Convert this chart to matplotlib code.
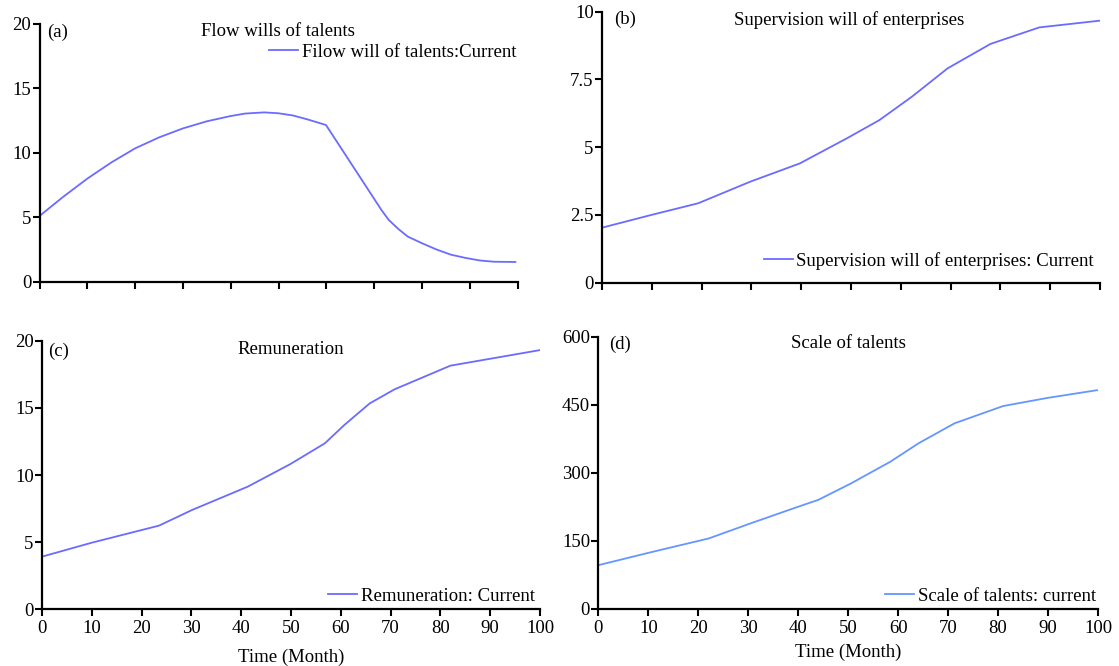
import matplotlib
matplotlib.use("Agg")
import matplotlib.pyplot as plt
import numpy as np

plt.rcParams['font.family'] = ['Liberation Serif', 'DejaVu Serif']

W, H = 1119, 666

# ---- data ----
t_a = [0, 5, 10, 15, 20, 25, 30, 35, 40, 43, 47, 50, 53, 56, 59.9, 71.5, 73, 75, 77, 80, 83, 86, 89, 92, 95, 99.5]
v_a = [5.1, 6.6, 8.0, 9.25, 10.35, 11.2, 11.9, 12.45, 12.86, 13.05, 13.14, 13.07, 12.9, 12.6, 12.16,
       5.56, 4.8, 4.1, 3.5, 2.98, 2.5, 2.1, 1.85, 1.65, 1.55, 1.53]

t_b = [0, 9.9, 19.3, 29.8, 39.7, 49.2, 55.7, 62.2, 69.4, 78, 87.8, 100]
v_b = [2.03, 2.50, 2.93, 3.73, 4.40, 5.33, 6.0, 6.86, 7.91, 8.81, 9.42, 9.67]

t_c = [0, 10, 23.5, 30.1, 41.3, 49.9, 56.8, 60.7, 65.8, 70.8, 82, 100]
v_c = [3.92, 4.96, 6.23, 7.39, 9.13, 10.82, 12.36, 13.72, 15.33, 16.38, 18.14, 19.3]

t_d = [0, 10.3, 22.1, 30.4, 40, 44, 50.5, 58.4, 64.1, 71.3, 81, 89.9, 99.8]
v_d = [96, 124, 155, 188, 225, 240, 276, 324, 365, 409, 447, 465, 482]

x_ticks = [0, 10, 20, 30, 40, 50, 60, 70, 80, 90, 100]
yticks_a = [0, 5, 10, 15, 20]
yticks_b = [0, 2.5, 5, 7.5, 10]
ylabels_b = ['0', '2.5', '5', '7.5', '10']
yticks_c = [0, 5, 10, 15, 20]
yticks_d = [0, 150, 300, 450, 600]

titles = ["Flow wills of talents", "Supervision will of enterprises", "Remuneration", "Scale of talents"]
legend_labels = ["Filow will of talents:Current", "Supervision will of enterprises: Current",
                 "Remuneration: Current", "Scale of talents: current"]
panel_tags = ["(a)", "(b)", "(c)", "(d)"]
xlabel = "Time (Month)"

col_main = "#6b6bff"
col_d = "#6596ff"
FS = 13.5

fig = plt.figure(figsize=(W / 100, H / 100), dpi=100)


def add_ax(l, r, t, b):
    return fig.add_axes([l / W, 1 - b / H, (r - l) / W, (b - t) / H])


def style(ax, yticks, ylabels=None, xlabels=True):
    for s in ['top', 'right']:
        ax.spines[s].set_visible(False)
    for s in ['left', 'bottom']:
        ax.spines[s].set_linewidth(1.6)
    ax.set_xlim(0, 100)
    ax.set_ylim(yticks[0], yticks[-1])
    ax.set_xticks(x_ticks)
    ax.set_yticks(yticks)
    if ylabels is not None:
        ax.set_yticklabels(ylabels)
    if not xlabels:
        ax.set_xticklabels([])
    ax.tick_params(direction='out', length=5, width=1.5, labelsize=FS, pad=1)
    ax.tick_params(axis='x', pad=3)
    ax.patch.set_alpha(0)


def ftext(x, y, s, **kw):
    fig.text(x / W, 1 - y / H, s, fontsize=FS, va='center', **kw)


def leg(ax, xr, y):
    ax.legend(loc='center right', bbox_to_anchor=(xr / W, 1 - y / H), bbox_transform=fig.transFigure,
              frameon=False, fontsize=FS, handlelength=1.55, handletextpad=0.2,
              borderpad=0, borderaxespad=0)


# (a)
ax_a = add_ax(39.5, 517.8, 24, 281.7)
ax_a.plot(t_a, v_a, color=col_main, lw=1.3, label=legend_labels[0])
style(ax_a, yticks_a, xlabels=False)
leg(ax_a, 516, 52)
ftext(47, 32, panel_tags[0])
ftext(278, 31, titles[0], ha='center')

# (b)
ax_b = add_ax(602, 1100, 11.7, 282.7)
ax_b.plot(t_b, v_b, color=col_main, lw=1.3, label=legend_labels[1])
style(ax_b, yticks_b, ylabels_b, xlabels=False)
leg(ax_b, 1094, 261)
ftext(614, 19, panel_tags[1])
ftext(849, 20, titles[1], ha='center')

# (c)
ax_c = add_ax(42, 540, 340.7, 609.3)
ax_c.plot(t_c, v_c, color=col_main, lw=1.3, label=legend_labels[2])
style(ax_c, yticks_c)
ax_c.set_xlabel(xlabel, fontsize=FS, labelpad=8)
leg(ax_c, 535, 596)
ftext(48, 351, panel_tags[2])
ftext(291, 350, titles[2], ha='center')

# (d)
ax_d = add_ax(598.4, 1098, 336.7, 608.7)
ax_d.plot(t_d, v_d, color=col_d, lw=1.3, label=legend_labels[3])
style(ax_d, yticks_d)
ax_d.set_xlabel(xlabel, fontsize=FS, labelpad=5)
leg(ax_d, 1096, 596)
ftext(609, 344, panel_tags[3])
ftext(848, 344, titles[3], ha='center')

fig.savefig("out.png", dpi=100)
